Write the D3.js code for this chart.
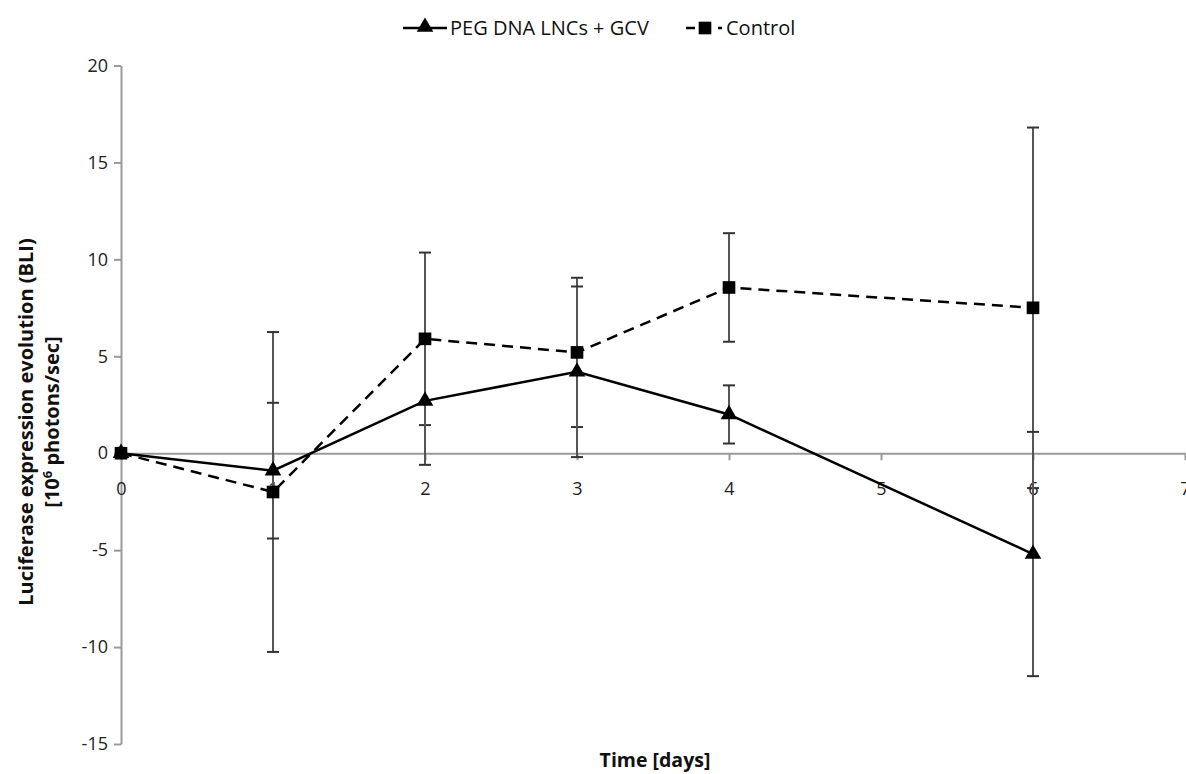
<!DOCTYPE html>
<html>
<head>
<meta charset="utf-8">
<script src="https://cdn.jsdelivr.net/npm/d3@7"></script>
<style>
  html, body { margin: 0; padding: 0; background: #fff; }
  svg { display: block; font-family: "Open Sans", "Liberation Sans", sans-serif; }
</style>
</head>
<body>
<svg id="chart" width="1186" height="774"></svg>
<script>
// Time points (days) and measured luciferase expression (10^6 photons/sec)
const days = [0, 1, 2, 3, 4, 6];
const pegMean = [0, -0.9, 2.7, 4.2, 2.0, -5.2];
const pegErr = [0, 3.5, 3.3, 4.4, 1.5, 6.3];
const controlMean = [0, -2.0, 5.9, 5.2, 8.55, 7.5];
const controlErr = [0, 8.25, 4.45, 3.85, 2.8, 9.3];

const xTicks = [0, 1, 2, 3, 4, 5, 6, 7];
const yTicks = [-15, -10, -5, 0, 5, 10, 15, 20];
const seriesNames = ["PEG DNA LNCs + GCV", "Control"];

const svg = d3.select("#chart");
const x = d3.scaleLinear().domain([0, 7]).range([121, 1185]);
const y = d3.scaleLinear().domain([-15, 20]).range([744, 65.5]);

const axisColor = "#9a9a9a";
const plain = d => String(d);

// Y axis on the left edge of the plot
const yAxis = svg.append("g")
  .attr("transform", `translate(${x(0)},0)`)
  .call(d3.axisLeft(y).tickValues(yTicks).tickFormat(plain).tickSize(7).tickPadding(6).tickSizeOuter(0));
yAxis.select(".domain").attr("stroke", axisColor).attr("stroke-width", 2);
yAxis.selectAll(".tick line").attr("stroke", axisColor).attr("stroke-width", 2);
yAxis.selectAll(".tick text").attr("font-size", 18).attr("fill", "#222")
  .attr("font-family", "'Open Sans', sans-serif");

// X axis crossing at zero
const xAxis = svg.append("g")
  .attr("transform", `translate(0,${y(0)})`)
  .call(d3.axisBottom(x).tickValues(xTicks).tickFormat(plain).tickSize(7).tickPadding(22).tickSizeOuter(0));
xAxis.select(".domain").attr("stroke", axisColor).attr("stroke-width", 2);
xAxis.selectAll(".tick line").attr("stroke", axisColor).attr("stroke-width", 2);
xAxis.selectAll(".tick text").attr("font-size", 18).attr("fill", "#222")
  .attr("font-family", "'Open Sans', sans-serif");

// Axis titles
svg.append("text")
  .attr("x", 655).attr("y", 767)
  .attr("text-anchor", "middle")
  .attr("font-size", 19.5).attr("font-weight", "bold").attr("fill", "#111")
  .text("Time [days]");

const yTitle = svg.append("text")
  .attr("transform", "translate(33,422) rotate(-90)")
  .attr("text-anchor", "middle")
  .attr("font-size", 20).attr("font-weight", "bold").attr("fill", "#111");
yTitle.append("tspan").attr("x", 0).attr("dy", 0).text("Luciferase expression evolution (BLI)");
const line2 = yTitle.append("tspan").attr("x", 0).attr("dy", 26);
line2.append("tspan").text("[10");
line2.append("tspan").attr("dy", -7).attr("font-size", 13).text("6");
line2.append("tspan").attr("dy", 7).text(" photons/sec]");

// Error bars
function drawErrors(means, errs, cls) {
  const g = svg.append("g").attr("class", cls);
  const pts = days.map((d, i) => ({ d, m: means[i], e: errs[i] })).filter(p => p.e > 0);
  g.selectAll("line.bar").data(pts).join("line")
    .attr("x1", p => x(p.d)).attr("x2", p => x(p.d))
    .attr("y1", p => y(p.m + p.e)).attr("y2", p => y(p.m - p.e))
    .attr("stroke", "#555").attr("stroke-width", 2);
  ["top", "bottom"].forEach(side => {
    g.selectAll("line.cap-" + side).data(pts).join("line")
      .attr("x1", p => x(p.d) - 6).attr("x2", p => x(p.d) + 6)
      .attr("y1", p => y(side === "top" ? p.m + p.e : p.m - p.e))
      .attr("y2", p => y(side === "top" ? p.m + p.e : p.m - p.e))
      .attr("stroke", "#333").attr("stroke-width", 2);
  });
}
drawErrors(controlMean, controlErr, "err-control");
drawErrors(pegMean, pegErr, "err-peg");

// Series lines
const lineGen = d3.line().x(p => x(p[0])).y(p => y(p[1]));
svg.append("path")
  .datum(days.map((d, i) => [d, controlMean[i]]))
  .attr("d", lineGen).attr("fill", "none")
  .attr("stroke", "#000").attr("stroke-width", 2.5).attr("stroke-dasharray", "11,7");
svg.append("path")
  .datum(days.map((d, i) => [d, pegMean[i]]))
  .attr("d", lineGen).attr("fill", "none")
  .attr("stroke", "#000").attr("stroke-width", 2.5);

// Markers
const squareSym = d3.symbol().type(d3.symbolSquare).size(160);
const triSym = d3.symbol().type(d3.symbolTriangle).size(120);
svg.append("g").selectAll("path").data(days.map((d, i) => [d, controlMean[i]])).join("path")
  .attr("transform", p => `translate(${x(p[0])},${y(p[1])})`)
  .attr("d", squareSym).attr("fill", "#000");
svg.append("g").selectAll("path").data(days.map((d, i) => [d, pegMean[i]])).join("path")
  .attr("transform", p => `translate(${x(p[0])},${y(p[1])})`)
  .attr("d", triSym).attr("fill", "#000");

// Legend
const legend = svg.append("g").attr("transform", "translate(0,28)");
legend.append("line").attr("x1", 403).attr("x2", 447).attr("y1", 0).attr("y2", 0)
  .attr("stroke", "#000").attr("stroke-width", 2.5);
legend.append("path").attr("transform", "translate(425,-1)").attr("d", triSym).attr("fill", "#000");
legend.append("text").attr("x", 450).attr("y", 0).attr("dy", "0.35em")
  .attr("font-size", 20).attr("fill", "#111").text(seriesNames[0]);
legend.append("line").attr("x1", 686).attr("x2", 722).attr("y1", 0).attr("y2", 0)
  .attr("stroke", "#000").attr("stroke-width", 2.5).attr("stroke-dasharray", "9,23,4");
legend.append("path").attr("transform", "translate(705,0)").attr("d", squareSym).attr("fill", "#000");
legend.append("text").attr("x", 726).attr("y", 0).attr("dy", "0.35em")
  .attr("font-size", 20).attr("fill", "#111").text(seriesNames[1]);
</script>
</body>
</html>
